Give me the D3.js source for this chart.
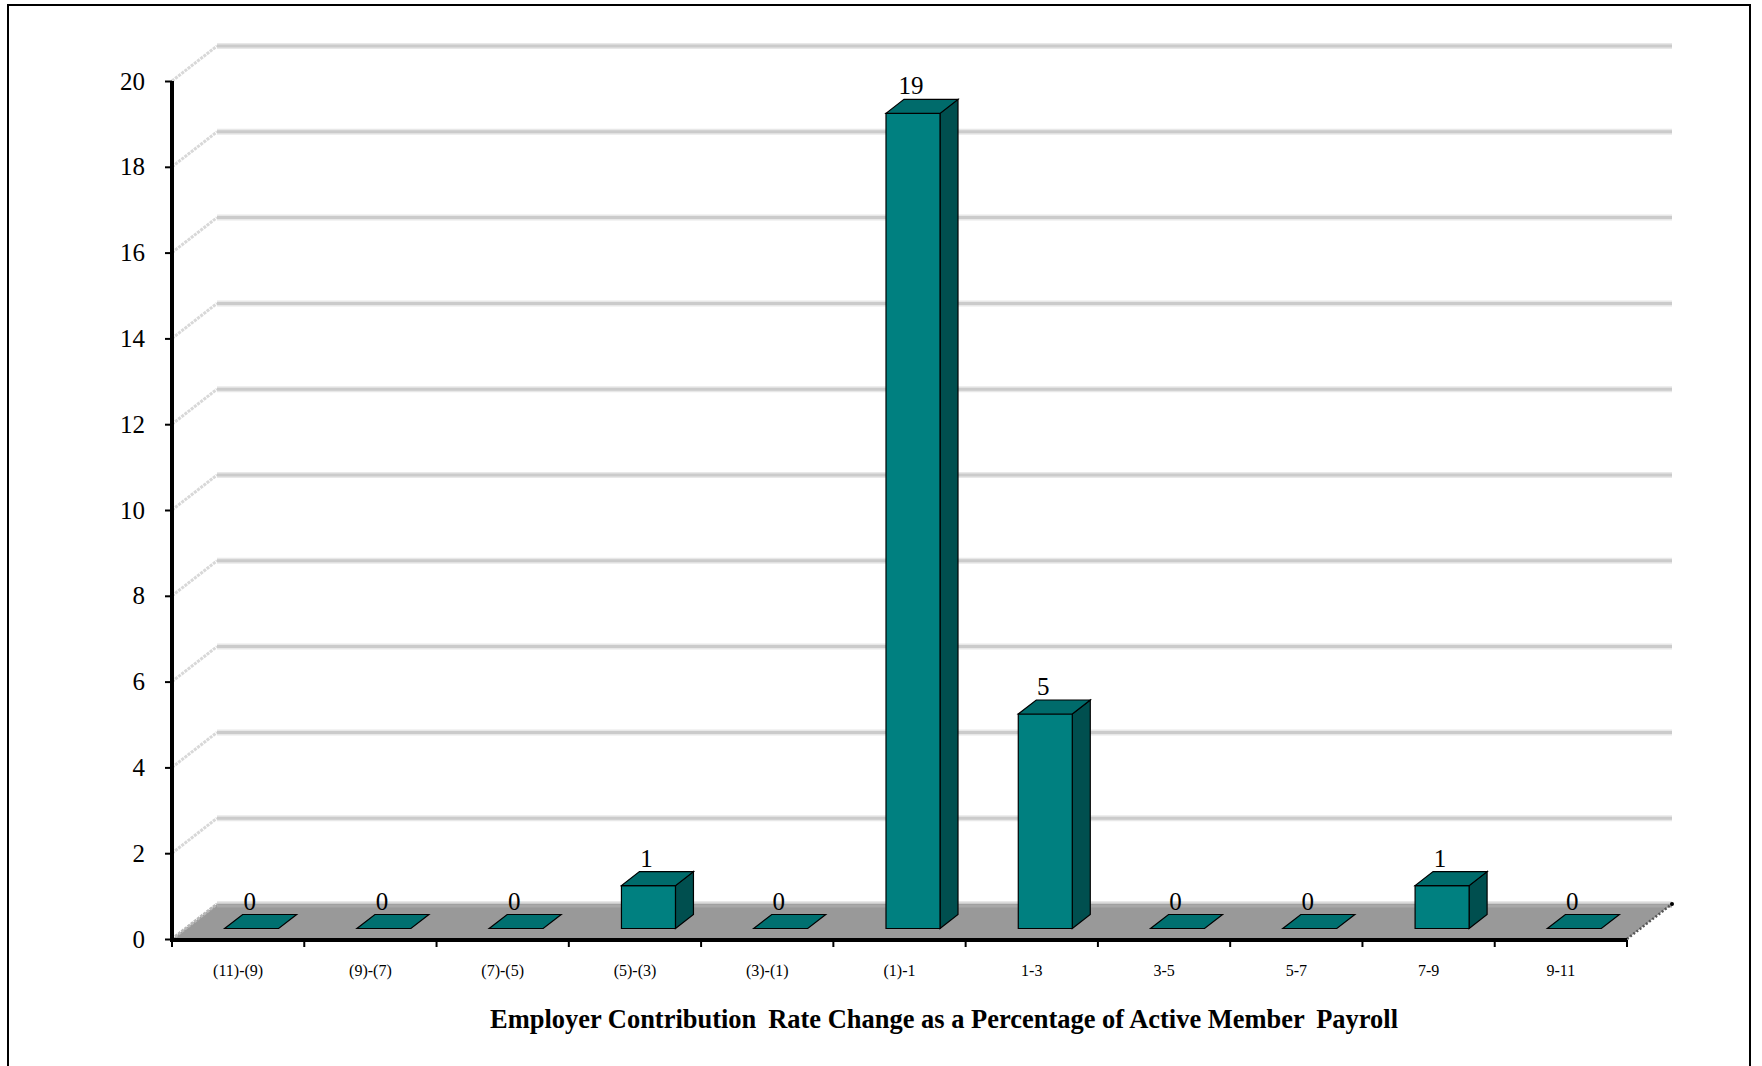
<!DOCTYPE html>
<html>
<head>
<meta charset="utf-8">
<script src="https://cdn.jsdelivr.net/npm/d3@7"></script>
<style>
  html, body { margin: 0; padding: 0; background: #ffffff; }
  svg { display: block; }
</style>
</head>
<body>
<svg id="chart" width="1762" height="1066"></svg>
<script>
// Distribution of employer contribution rate changes
const categories = ["(11)-(9)", "(9)-(7)", "(7)-(5)", "(5)-(3)", "(3)-(1)", "(1)-1", "1-3", "3-5", "5-7", "7-9", "9-11"];
const counts = [0, 0, 0, 1, 0, 19, 5, 0, 0, 1, 0];
const yTicks = [0, 2, 4, 6, 8, 10, 12, 14, 16, 18, 20];
const xTitle = "Employer Contribution \u2009Rate Change as a Percentage of Active Member \u2009Payroll";

const svg = d3.select("#chart");

// plot frame (front plane) and depth of the 3-D box
const plotLeft = 172, plotRight = 1627, plotBottom = 939, plotTop = 81;
const DX = 45, DY = 35;          // full depth offset of the back wall
const zFront = 0.3, zBack = 0.7; // depth range occupied by the bars

const x = d3.scaleBand().domain(categories).range([plotLeft, plotRight]).paddingInner(0).paddingOuter(0);
const y = d3.scaleLinear().domain([0, 20]).range([plotBottom, plotTop]);

// projection of (screen x on front plane, value, depth fraction)
const px = (sx, z) => sx + z * DX;
const py = (v, z) => y(v) - z * DY;

// outer border
svg.append("rect")
  .attr("x", 8).attr("y", 5).attr("width", 1742).attr("height", 1070)
  .attr("fill", "none").attr("stroke", "#000").attr("stroke-width", 2);

// side wall gridlines (from front axis back to the wall)
const grid = svg.append("g");
grid.selectAll("line.side").data(yTicks.filter(d => d > 0)).join("line")
  .attr("class", "side")
  .attr("x1", plotLeft).attr("y1", d => py(d, 0))
  .attr("x2", px(plotLeft, 1)).attr("y2", d => py(d, 1))
  .attr("stroke", "#d8d8d8").attr("stroke-width", 3)
  .attr("stroke-dasharray", "3,1");

// back wall gridlines: soft halo plus core
grid.selectAll("line.halo").data(yTicks).join("line")
  .attr("class", "halo")
  .attr("x1", px(plotLeft, 1)).attr("x2", px(plotRight, 1))
  .attr("y1", d => py(d, 1)).attr("y2", d => py(d, 1))
  .attr("stroke", "#e8e8e8").attr("stroke-width", 6);
grid.selectAll("line.core").data(yTicks).join("line")
  .attr("class", "core")
  .attr("x1", px(plotLeft, 1)).attr("x2", px(plotRight, 1))
  .attr("y1", d => py(d, 1)).attr("y2", d => py(d, 1))
  .attr("stroke", "#cbcbcb").attr("stroke-width", 3);

// floor
const poly = pts => pts.map(p => p.join(",")).join(" ");
svg.append("polygon")
  .attr("points", poly([
    [px(plotLeft, 0), py(0, 0)], [px(plotRight, 0), py(0, 0)],
    [px(plotRight, 1), py(0, 1)], [px(plotLeft, 1), py(0, 1)]
  ]))
  .attr("fill", "#999999");
// lighter band along the back edge of the floor
svg.append("line")
  .attr("x1", px(plotLeft, 1)).attr("x2", px(plotRight, 1))
  .attr("y1", py(0, 1) + 2).attr("y2", py(0, 1) + 2)
  .attr("stroke", "#a8a8a8").attr("stroke-width", 3);
// left floor edge
svg.append("line")
  .attr("x1", px(plotLeft, 0)).attr("y1", py(0, 0))
  .attr("x2", px(plotLeft, 1)).attr("y2", py(0, 1))
  .attr("stroke", "#b8b8b8").attr("stroke-width", 3).attr("stroke-dasharray", "3,1");
// right floor edge
svg.append("line")
  .attr("x1", px(plotRight, 0)).attr("y1", py(0, 0))
  .attr("x2", px(plotRight, 1)).attr("y2", py(0, 1))
  .attr("stroke", "#555").attr("stroke-width", 2.5).attr("stroke-dasharray", "2,2");
svg.append("circle").attr("cx", px(plotRight, 1)).attr("cy", py(0, 1)).attr("r", 2).attr("fill", "#000");

// bars as 3-D boxes
const barW = 54;
const bars = svg.append("g").selectAll("g").data(categories.map((c, i) => ({ c, v: counts[i] }))).join("g");
const x0 = d => x(d.c) + (x.bandwidth() - barW) / 2;
const x1 = d => x0(d) + barW;

// right side face
bars.filter(d => d.v > 0).append("polygon")
  .attr("points", d => poly([
    [px(x1(d), zFront), py(0, zFront)], [px(x1(d), zBack), py(0, zBack)],
    [px(x1(d), zBack), py(d.v, zBack)], [px(x1(d), zFront), py(d.v, zFront)]
  ]))
  .attr("fill", "#004f4f").attr("stroke", "#000").attr("stroke-width", 1.2);
// front face
bars.filter(d => d.v > 0).append("polygon")
  .attr("points", d => poly([
    [px(x0(d), zFront), py(0, zFront)], [px(x1(d), zFront), py(0, zFront)],
    [px(x1(d), zFront), py(d.v, zFront)], [px(x0(d), zFront), py(d.v, zFront)]
  ]))
  .attr("fill", "#008080").attr("stroke", "#000").attr("stroke-width", 1.2);
// top face
bars.append("polygon")
  .attr("points", d => poly([
    [px(x0(d), zFront), py(d.v, zFront)], [px(x1(d), zFront), py(d.v, zFront)],
    [px(x1(d), zBack), py(d.v, zBack)], [px(x0(d), zBack), py(d.v, zBack)]
  ]))
  .attr("fill", d => d.v > 0 ? "#006b6b" : "#007070")
  .attr("stroke", "#000").attr("stroke-width", 1.2);

// value labels
bars.append("text")
  .attr("x", d => px((x0(d) + x1(d)) / 2, zFront) - 2)
  .attr("y", d => py(d.v, zFront) - 19)
  .attr("text-anchor", "middle")
  .attr("font-family", "'Liberation Serif', 'Times New Roman', serif")
  .attr("font-size", 25)
  .attr("fill", "#000")
  .text(d => d.v);

// y axis
const yAxis = svg.append("g")
  .attr("transform", `translate(${plotLeft},0)`)
  .call(d3.axisLeft(y).tickValues(yTicks).tickSize(7).tickPadding(20).tickSizeOuter(0));
yAxis.select(".domain").attr("stroke", "#000").attr("stroke-width", 4)
  .attr("d", `M0,${y(20)}V${plotBottom + 2}`);
yAxis.selectAll(".tick line").attr("stroke", "#000").attr("stroke-width", 2);
yAxis.selectAll(".tick text")
  .attr("font-family", "'Liberation Serif', 'Times New Roman', serif")
  .attr("font-size", 25).attr("fill", "#000");

// x axis: labels centred in each band, ticks on band boundaries
const xAxis = svg.append("g")
  .attr("transform", `translate(0,${plotBottom + 1})`)
  .call(d3.axisBottom(x).tickSize(0).tickPadding(25));
xAxis.select(".domain").attr("stroke", "#000").attr("stroke-width", 4)
  .attr("d", `M${plotLeft - 2},0H${plotRight}`);
xAxis.selectAll(".tick text")
  .attr("font-family", "'Liberation Serif', 'Times New Roman', serif")
  .attr("font-size", 16).attr("fill", "#000");
const bounds = categories.map(c => x(c)).concat([plotRight]);
xAxis.selectAll("line.bound").data(bounds).join("line")
  .attr("class", "bound")
  .attr("x1", d => d).attr("x2", d => d)
  .attr("y1", 0).attr("y2", 7)
  .attr("stroke", "#000").attr("stroke-width", 2);

// axis title, condensed to the axis width
svg.append("text")
  .attr("x", 944).attr("y", 1028)
  .attr("text-anchor", "middle")
  .attr("font-family", "'Liberation Serif', 'Times New Roman', serif")
  .attr("font-weight", "bold")
  .attr("font-size", 28)
  .attr("textLength", 908)
  .attr("lengthAdjust", "spacingAndGlyphs")
  .text(xTitle);
</script>
</body>
</html>
